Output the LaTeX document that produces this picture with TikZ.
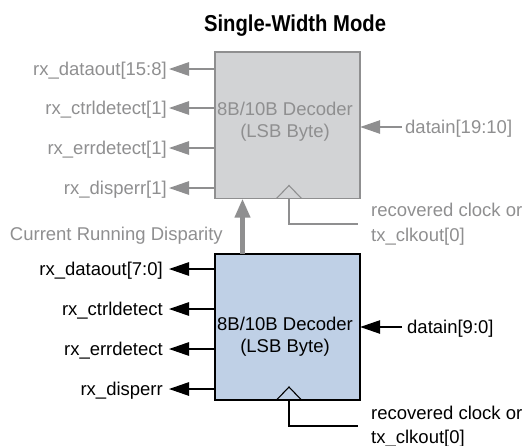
\documentclass[tikz,border=0pt]{standalone}
\usepackage{fontspec}
\setmainfont{Liberation Sans}
\usetikzlibrary{arrows.meta}
\definecolor{dimgray}{HTML}{8F8F90}
\definecolor{boxgray}{HTML}{D2D3D5}
\definecolor{boxblue}{HTML}{BFD0E6}
\tikzset{
  lbl/.style={inner sep=0pt, text height=13.3pt, text depth=0pt, font=\fontsize{18.5}{22}\selectfont},
  glbl/.style={lbl, text=dimgray},
  blbl/.style={lbl, text=black},
  sig/.style={line width=1.2pt, -{Triangle[length=20pt,width=13.5pt]}},
  gsig/.style={sig, draw=dimgray},
  bsig/.style={sig, draw=black},
  clk/.style={line width=1.1pt},
}
\begin{document}
\begin{tikzpicture}[x=1pt,y=-1pt]
\useasboundingbox (0,0) rectangle (529,445);

% title
\node[inner sep=0pt, font=\bfseries\fontsize{23}{26}\selectfont] (title) at (295,26)
  {\scalebox{0.88}[1]{Single-Width Mode}};

% decoder blocks
\draw[draw=dimgray, fill=boxgray, line width=1.1pt] (215,52) rectangle (360,198.5);
\node[inner sep=0pt, minimum width=145pt, minimum height=146.5pt] (top) at (287.5,125.25) {};
\draw[draw=black, fill=boxblue, line width=1.1pt] (215,254) rectangle (360,400);
\node[inner sep=0pt, minimum width=145pt, minimum height=146pt] (bot) at (287.5,327) {};

% block captions
\node[glbl] (t1) at (285,109) {8B/10B Decoder};
\node[glbl] (t2) at (285,131) {(LSB Byte)};
\node[blbl] (b1) at (285,324) {8B/10B Decoder};
\node[blbl] (b2) at (285,346) {(LSB Byte)};

% upper outputs
\node[glbl, anchor=east] (uo1) at (167,69) {rx\_dataout[15:8]};
\node[glbl, anchor=east] (uo2) at (167,108) {rx\_ctrldetect[1]};
\node[glbl, anchor=east] (uo3) at (167,148) {rx\_errdetect[1]};
\node[glbl, anchor=east] (uo4) at (167,188) {rx\_disperr[1]};
\foreach \n in {uo1,uo2,uo3,uo4}
  \draw[gsig] (top.west |- \n) -- ([xshift=2pt]\n.east);

% lower outputs
\node[blbl, anchor=east] (lo1) at (163,269) {rx\_dataout[7:0]};
\node[blbl, anchor=east] (lo2) at (163,309) {rx\_ctrldetect};
\node[blbl, anchor=east] (lo3) at (163,349) {rx\_errdetect};
\node[blbl, anchor=east] (lo4) at (163,389) {rx\_disperr};
\foreach \n in {lo1,lo2,lo3,lo4}
  \draw[bsig] (bot.west |- \n) -- ([xshift=6pt]\n.east);

% data inputs
\node[glbl, anchor=west] (din1) at (405,127) {datain[19:10]};
\draw[gsig] ([xshift=-3pt]din1.west) -- (top.east |- din1);
\node[blbl, anchor=west] (din0) at (407,327) {datain[9:0]};
\draw[bsig] ([xshift=-5pt]din0.west) -- (bot.east |- din0);

% clock inputs
\draw[clk, draw=dimgray] (276.5,198.5) -- (289,185.5) -- (301.5,198.5);
\coordinate (uc) at (358,224);
\draw[clk, draw=dimgray] (289,198.5) |- (uc);
\node[glbl, anchor=west] (uc1) at (371,210) {recovered clock or};
\node[glbl, anchor=west] (uc2) at (371,235) {tx\_clkout[0]};

\draw[clk, draw=black] (276.5,400) -- (289,387) -- (301.5,400);
\coordinate (lc) at (358,426);
\draw[clk, draw=black] (289,400) |- (lc);
\node[blbl, anchor=west] (lc1) at (371,413) {recovered clock or};
\node[blbl, anchor=west] (lc2) at (371,436.5) {tx\_clkout[0]};

% running disparity feedback
\draw[draw=dimgray, line width=4.3pt, -{Triangle[length=19pt,width=15pt]}] (bot.north -| 242.5,0) -- (top.south -| 242.5,0);
\node[glbl, anchor=east] (crd) at (223,234) {Current Running Disparity};
\end{tikzpicture}
\end{document}
